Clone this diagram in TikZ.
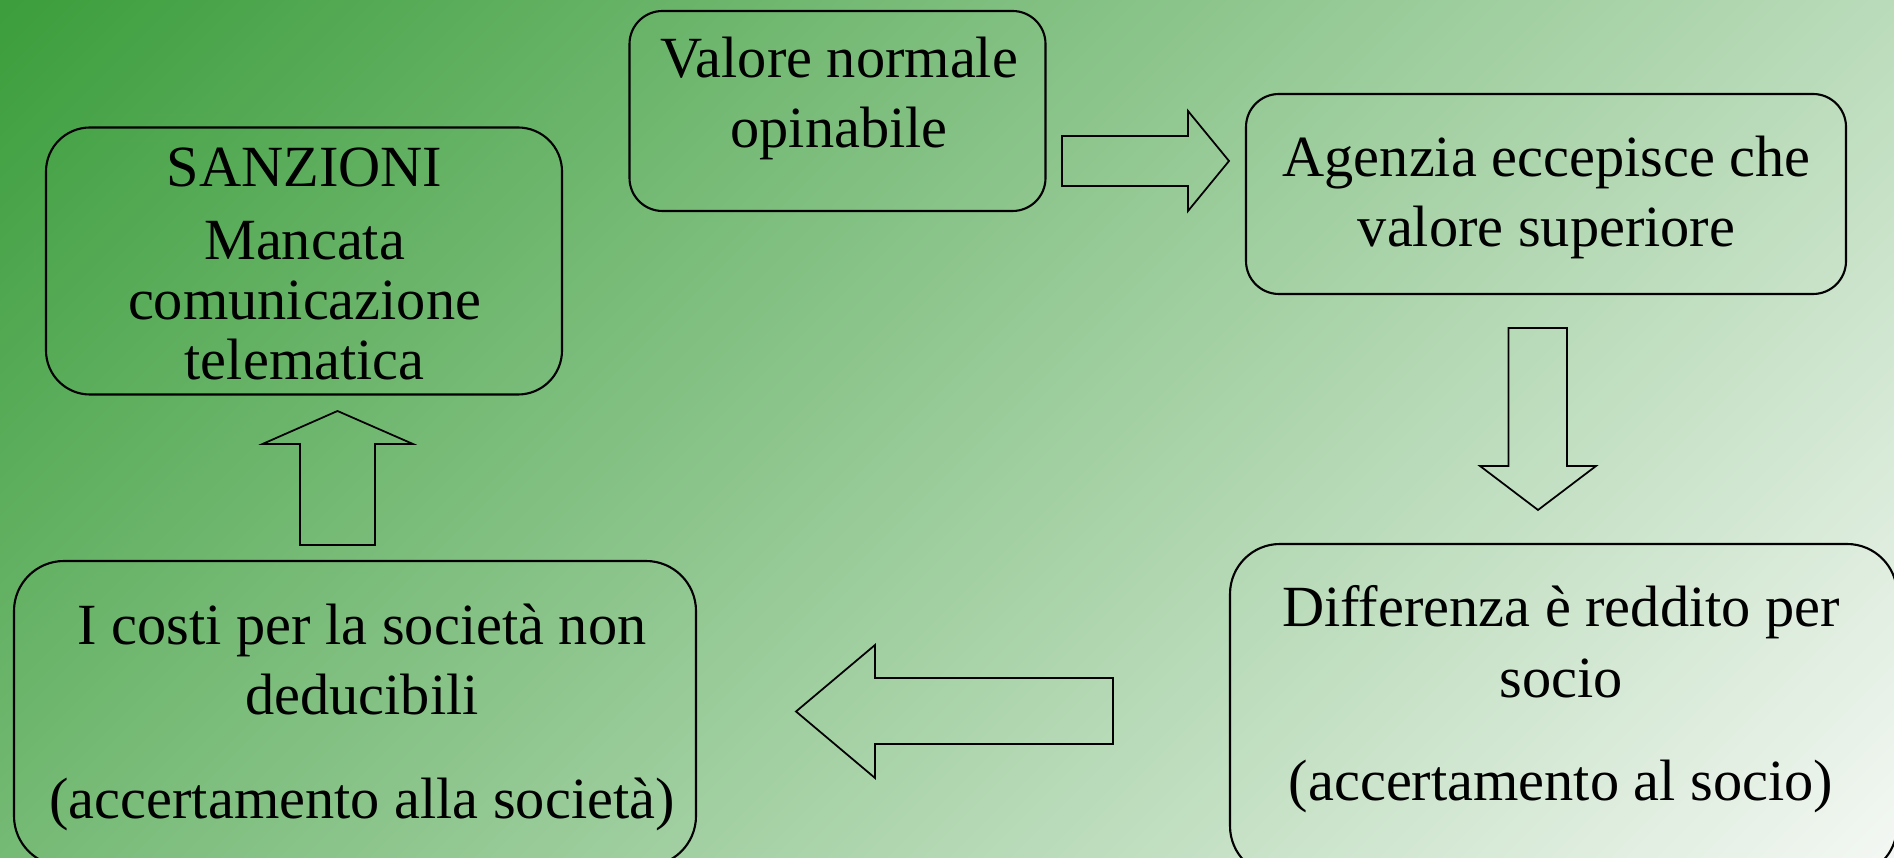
\documentclass[tikz,border=0pt]{standalone}
\usepackage{fontspec}
\setmainfont{Liberation Serif}
\usetikzlibrary{positioning}
\definecolor{bgdark}{RGB}{60,158,60}
\definecolor{bglight}{RGB}{243,247,243}
\tikzset{
  box/.style={draw, rectangle, rounded corners=#1, inner sep=0pt, line width=0.6pt},
  box/.default=0.33cm,
  boxtext/.style={font=\fontsize{16.6pt}{20pt}\selectfont, align=center, inner sep=0pt, anchor=base},
  blockarrow/.style={draw, line width=0.5pt, line join=miter}
}
\begin{document}
\begin{tikzpicture}
	\useasboundingbox (0,0) rectangle (18.94,-8.58);
	% background
	\begin{scope}
		\clip (0,0) rectangle (18.94,-8.58);
		\shade[top color=bgdark, bottom color=bglight, shading angle=45] (-0.26,-14.02) rectangle (19.20,5.44);
	\end{scope}
	% boxes
	\node[box=0.44cm, minimum width=5.16cm, minimum height=2.67cm] at (3.04,-2.61) (sanz) {};
	\node[box, minimum width=4.16cm, minimum height=2.00cm] at (8.375,-1.11) (valore) {};
	\node[box, minimum width=6.00cm, minimum height=2.00cm] at (15.46,-1.94) (agenzia) {};
	\node[box=0.5cm, minimum width=6.67cm, minimum height=3.32cm] at (15.635,-7.10) (diff) {};
	\node[box=0.5cm, minimum width=6.82cm, minimum height=3.05cm] at (3.55,-7.135) (costi) {};
	% texts (anchored on the last line)
	\node[boxtext, font=\fontsize{16.6pt}{17.1pt}\selectfont] at (3.046,-3.80) (sanztxt) {SANZIONI\\[3.7pt] Mancata\\ comunicazione\\ telematica};
	\node[boxtext] at (8.39,-1.48) (valtxt) {Valore normale\\ opinabile};
	\node[boxtext] at (15.466,-2.47) (agtxt) {Agenzia eccepisce che\\ valore superiore};
	\node[boxtext] at (15.61,-8.00) (difftxt) {Differenza è reddito per\\ socio\\[9.3pt] (accertamento al socio)};
	\node[boxtext] at (3.62,-8.18) (costtxt) {I costi per la società non\\ deducibili\\[9.5pt] (accertamento alla società)};
	% block arrows
	\draw[blockarrow] (10.62,-1.36) -- (11.88,-1.36) -- (11.88,-1.11) -- (12.29,-1.61) -- (11.88,-2.11) -- (11.88,-1.86) -- (10.62,-1.86) -- cycle;
	\draw[blockarrow] (15.085,-3.28) -- (15.67,-3.28) -- (15.67,-4.66) -- (15.96,-4.66) -- (15.38,-5.10) -- (14.80,-4.66) -- (15.085,-4.66) -- cycle;
	\draw[blockarrow] (11.13,-6.78) -- (8.75,-6.78) -- (8.75,-6.45) -- (7.96,-7.115) -- (8.75,-7.78) -- (8.75,-7.44) -- (11.13,-7.44) -- cycle;
	\draw[blockarrow] (3.00,-5.45) -- (3.00,-4.44) -- (2.625,-4.44) -- (3.375,-4.11) -- (4.13,-4.44) -- (3.75,-4.44) -- (3.75,-5.45) -- cycle;
\end{tikzpicture}
\end{document}
